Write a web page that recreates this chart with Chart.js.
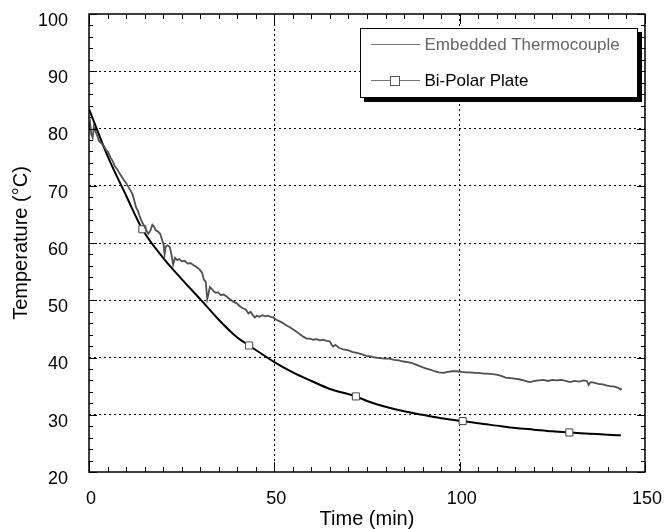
<!DOCTYPE html>
<html>
<head>
<meta charset="utf-8">
<script src="https://cdn.jsdelivr.net/npm/chart.js@4/dist/chart.umd.min.js"></script>
<style>
  body { margin: 0; background: #fff; }
  #wrap { position: relative; width: 667px; height: 529px; }
  #legend {
    position: absolute; left: 360px; top: 28px; width: 276px; height: 68px;
    border: 1.5px solid #000; background: #fff; box-shadow: 4px 4px 0 #000;
    font-family: Arial, "Liberation Sans", sans-serif; font-size: 17px;
  }
  .row { position: absolute; left: 9.5px; height: 20px; display: flex; align-items: center; white-space: nowrap; }
  .swatch { position: relative; width: 49px; height: 20px; margin-right: 5px; }
  .swatch .ln { position: absolute; left: 0; right: 0; top: 9px; height: 1.5px; background: #777; }
  .swatch .sq { position: absolute; left: 19px; top: 5px; width: 8px; height: 8px; border: 1px solid #555; background: #fff; }
</style>
</head>
<body>
<div id="wrap">
  <canvas id="myChart" width="667" height="529"></canvas>
  <div id="legend">
    <div class="row" style="top:5.5px"><div class="swatch"><div class="ln"></div></div><span style="color:#666">Embedded Thermocouple</span></div>
    <div class="row" style="top:41.5px"><div class="swatch"><div class="ln"></div><div class="sq"></div></div><span style="color:#000">Bi-Polar Plate</span></div>
  </div>
</div>
<script>
// Embedded thermocouple (noisy trace)
const thermoTime = [0, 0.3, 0.6, 1.0, 1.3, 1.8, 2.3, 2.8, 3.4, 4.0, 4.6, 5.2, 5.8, 6.4, 7.0, 7.6, 8.2, 8.8, 9.4, 10.0,
  10.6, 11.2, 11.8, 12.3, 12.7, 13.2, 13.6, 14.1, 14.5, 14.9, 15.5, 16.0, 16.6, 17.1, 17.5, 18.0, 18.6, 19.2, 19.7, 20.1,
  20.4, 20.7, 21.2, 21.8, 22.3, 22.7, 23.2, 23.8, 24.4, 25.0, 25.8, 26.6, 27.4, 28.2, 29.0, 29.8, 30.5, 31.0, 31.5, 31.9,
  32.2, 32.6, 33.1, 33.6, 34.2, 34.8, 35.5, 36.3, 37.2, 38.0, 38.8, 39.8, 40.6, 41.5, 42.3, 43.0, 43.6, 44.2, 44.8, 45.3,
  46.0, 46.8, 47.5, 48.3, 49.0, 49.7, 50.5, 51.5, 52.4, 53.3, 54.2, 55.1, 56.0, 57.0, 57.9, 58.7, 59.6, 60.5, 61.4, 62.3,
  63.2, 64.1, 65.0, 65.5, 65.9, 66.5, 67.4, 68.6, 69.8, 71.0, 72.2, 73.5, 74.8, 76.0, 77.2, 78.5, 79.8, 81.0, 82.3, 83.6,
  84.8, 86.0, 87.2, 88.4, 89.6, 90.8, 92.0, 93.2, 94.4, 95.6, 96.8, 98.0, 99.2, 100.4, 101.6, 102.8, 104.0, 105.2, 106.4, 107.6,
  108.8, 110.0, 111.2, 112.4, 113.6, 114.8, 116.0, 117.2, 118.4, 119.0, 120.2, 121.4, 122.6, 123.8, 125.0, 126.2, 127.4, 128.6, 129.8, 131.0,
  132.2, 133.4, 134.3, 134.8, 135.3, 136.2, 137.4, 138.6, 139.8, 140.6, 141.8, 142.8, 143.4, 143.7];
const thermoTemp = [80.2, 81.0, 79.0, 78.4, 80.3, 79.4, 78.6, 77.7, 77.4, 76.9, 76.3, 75.8, 74.9, 74.3, 73.4, 72.9, 72.2, 71.6, 71.0, 70.5,
  69.8, 69.2, 68.4, 67.2, 66.2, 65.6, 64.8, 64.0, 63.4, 63.0, 62.2, 61.6, 62.2, 63.2, 62.9, 62.2, 62.0, 61.6, 60.6, 59.8,
  58.0, 59.4, 59.6, 59.3, 57.8, 56.2, 57.4, 57.0, 57.2, 56.8, 56.9, 56.4, 56.5, 56.1, 55.8, 55.4, 54.8, 53.6, 53.2, 50.2,
  51.0, 52.3, 52.0, 51.6, 51.3, 51.4, 50.9, 51.0, 50.6, 50.2, 49.8, 49.5, 49.0, 48.6, 48.4, 47.7, 48.0, 47.4, 47.0, 47.3,
  47.1, 47.4, 47.2, 47.3, 47.1, 47.0, 46.6, 46.3, 46.0, 45.6, 45.3, 44.9, 44.5, 44.0, 43.6, 43.3, 43.3, 43.1, 43.2, 43.0,
  43.1, 42.9, 42.8, 42.2, 41.9, 42.2, 41.7, 41.4, 41.3, 41.0, 40.8, 40.6, 40.3, 40.2, 40.0, 39.9, 39.8, 39.8, 39.6, 39.5,
  39.3, 39.2, 39.0, 38.7, 38.4, 38.1, 37.9, 37.6, 37.4, 37.3, 37.5, 37.6, 37.6, 37.5, 37.4, 37.4, 37.3, 37.3, 37.2, 37.2,
  37.1, 37.0, 36.8, 36.5, 36.4, 36.3, 36.2, 36.0, 35.8, 35.7, 35.9, 36.0, 36.1, 35.9, 36.1, 36.0, 36.1, 35.9, 35.7, 35.9,
  35.8, 36.0, 35.9, 35.2, 35.7, 35.6, 35.4, 35.3, 35.1, 35.0, 34.9, 34.7, 34.4, 34.6];

// Bi-polar plate (smooth curve) and the times where it carries a square marker
const plateTime = [0, 5, 10, 14.4, 20, 25, 30, 35, 40, 43.2, 50, 55, 60, 65, 72, 75, 80, 85, 90, 95,
  100.8, 105, 110, 115, 120, 125, 129.6, 135, 140, 143.5];
const plateTemp = [83.4, 75.2, 68.3, 62.4, 57.4, 53.7, 50.2, 46.6, 43.5, 42.1, 39.2, 37.4, 35.9, 34.5, 33.2, 32.4, 31.4, 30.6, 30.0, 29.4,
  28.9, 28.5, 28.1, 27.7, 27.4, 27.1, 26.9, 26.7, 26.5, 26.4];
const markerTime = [14.4, 43.2, 72, 100.8, 129.6];

const xTicks = [0, 50, 100, 150];
const yTicks = [20, 30, 40, 50, 60, 70, 80, 90, 100];

const FONT = 'Arial, "Liberation Sans", sans-serif';

// frame plus inward minor/major tick marks on all four sides
const framePlugin = {
  id: 'frame',
  afterDraw(chart) {
    const {ctx, chartArea: a, scales: {x, y}} = chart;
    ctx.save();
    ctx.strokeStyle = '#000';
    ctx.lineWidth = 1;
    ctx.beginPath();
    for (let t = 0; t <= 150; t += 5) {
      const px = Math.round(x.getPixelForValue(t)) + 0.5;
      const len = t % 50 === 0 ? 10 : 5;
      ctx.moveTo(px, a.bottom); ctx.lineTo(px, a.bottom - len);
      ctx.moveTo(px, a.top); ctx.lineTo(px, a.top + len);
    }
    for (let v = 20; v <= 100; v += 2) {
      const py = Math.round(y.getPixelForValue(v)) + 0.5;
      const len = v % 10 === 0 ? 8 : 4;
      ctx.moveTo(a.left, py); ctx.lineTo(a.left + len, py);
      ctx.moveTo(a.right, py); ctx.lineTo(a.right - len, py);
    }
    ctx.stroke();
    ctx.lineWidth = 1.5;
    ctx.strokeRect(a.left, a.top, a.right - a.left, a.bottom - a.top);
    ctx.restore();
  }
};

new Chart('myChart', {
  type: 'line',
  data: {
    datasets: [{
      label: 'Embedded Thermocouple',
      data: thermoTime.map((t, i) => ({x: t, y: thermoTemp[i]})),
      borderColor: '#505050',
      borderWidth: 1.8,
      pointRadius: 0,
      tension: 0,
      fill: false
    }, {
      label: 'Bi-Polar Plate',
      data: plateTime.map((t, i) => ({x: t, y: plateTemp[i]})),
      borderColor: '#000',
      borderWidth: 2,
      cubicInterpolationMode: 'monotone',
      pointStyle: 'rect',
      pointRadius: ctx => markerTime.includes(plateTime[ctx.dataIndex]) ? 5 : 0,
      pointBorderColor: '#444',
      pointBorderWidth: 1,
      pointBackgroundColor: '#fff',
      fill: false
    }]
  },
  options: {
    responsive: false,
    animation: false,
    layout: { padding: { top: 14, right: 22, left: 0, bottom: 0 } },
    plugins: { legend: { display: false }, tooltip: { enabled: false } },
    scales: {
      x: {
        type: 'linear', min: 0, max: 150,
        afterFit: s => { s.height = 57; s.paddingLeft = 0; s.paddingRight = 0; },
        afterBuildTicks: s => { s.ticks = xTicks.map(v => ({value: v})); },
        border: { display: false, dash: [2, 3] },
        grid: {
          drawTicks: false, lineWidth: 1,
          color: c => (c.tick && (c.tick.value === 0 || c.tick.value === 150)) ? 'rgba(0,0,0,0)' : '#000'
        },
        ticks: { color: '#000', padding: 16, labelOffset: 2, maxRotation: 0, font: { family: FONT, size: 18 } },
        title: { display: true, text: 'Time (min)', color: '#000', padding: { bottom: 0, top: 0 }, font: { family: FONT, size: 20, lineHeight: 1 } }
      },
      y: {
        type: 'linear', min: 20, max: 100,
        afterFit: s => { s.width = 89; s.paddingTop = 0; s.paddingBottom = 0; },
        afterBuildTicks: s => { s.ticks = yTicks.map(v => ({value: v})); },
        border: { display: false, dash: [2, 3] },
        grid: {
          drawTicks: false, lineWidth: 1,
          color: c => (c.tick && (c.tick.value === 20 || c.tick.value === 100)) ? 'rgba(0,0,0,0)' : '#000'
        },
        ticks: { color: '#000', padding: 21, labelOffset: 7, font: { family: FONT, size: 18 } },
        title: { display: true, text: 'Temperature (°C)', color: '#000', padding: { top: 11, bottom: 0 }, font: { family: FONT, size: 20, lineHeight: 1 } }
      }
    }
  },
  plugins: [framePlugin]
});
</script>
</body>
</html>
